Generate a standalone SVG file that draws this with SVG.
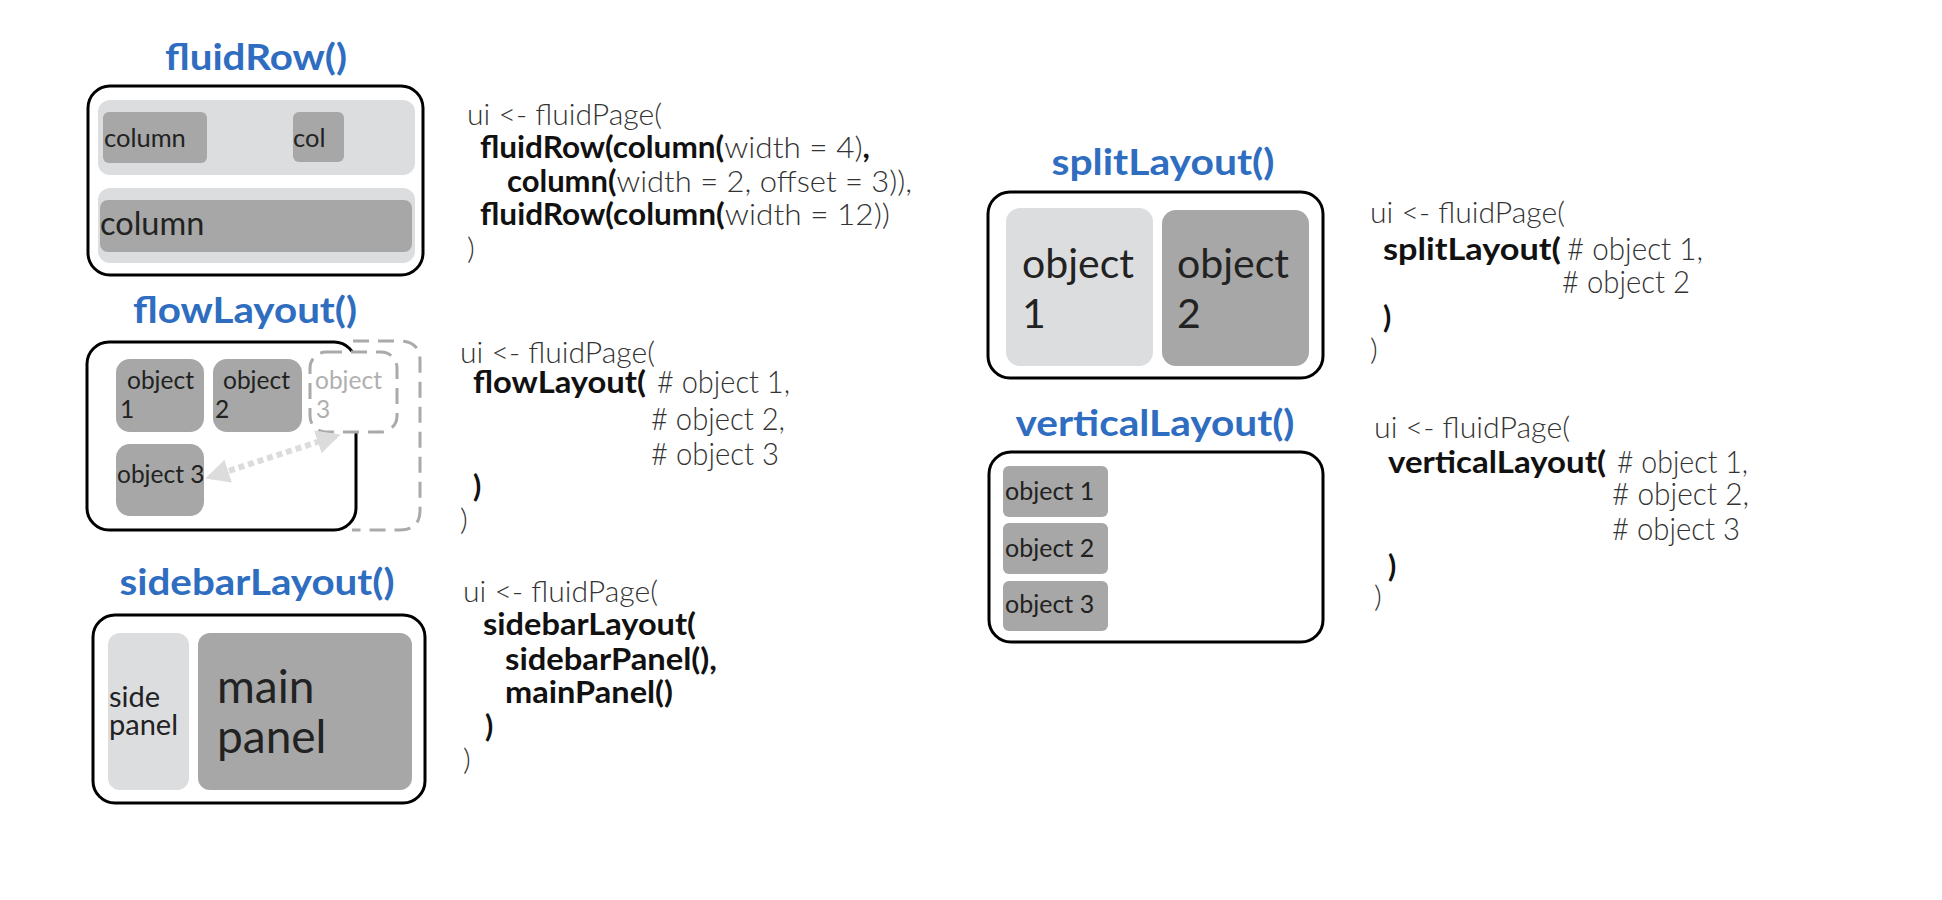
<svg xmlns="http://www.w3.org/2000/svg" width="1942" height="900" viewBox="0 0 1942 900">
<defs>
<style>
.title{font-family:Lato,"Open Sans","Liberation Sans",sans-serif;font-weight:700;fill:#2f6dc0;font-size:37px;text-anchor:middle}
.code{font-family:Lato,"Open Sans","Liberation Sans",sans-serif;font-weight:300;fill:#333;font-size:30px}
.cm{font-size:32px}
.b{font-weight:700;fill:#111}
.lbl{font-family:Lato,"Open Sans","Liberation Sans",sans-serif;fill:#222}
.outer{fill:#fff;stroke:#000;stroke-width:3}
.light{fill:#dcdddf}
.dark{fill:#a6a7a6}
.ghost{fill:#b0b0b0}
.dash{fill:#fff;stroke:#aaa;stroke-width:3;stroke-dasharray:16 9}
</style>
<marker id="ah" viewBox="0 0 10 10" refX="8" refY="5" markerWidth="4" markerHeight="4" orient="auto-start-reverse">
<path d="M0 0 L10 5 L0 10 Z" fill="#dcdcdc"/>
</marker>
</defs>
<rect width="1942" height="900" fill="#fff"/>

<g id="fluidRow">
<text class="title" x="256" y="70" textLength="182" lengthAdjust="spacingAndGlyphs">fluidRow()</text>
<rect class="outer" x="88" y="86" width="335" height="189" rx="22"/>
<rect class="light" x="98" y="100" width="317" height="75" rx="12"/>
<rect class="dark" x="103" y="112" width="104" height="51" rx="6"/>
<text class="lbl" x="104" y="147" font-size="25.5">column</text>
<rect class="dark" x="293" y="112" width="51" height="50" rx="6"/>
<text class="lbl" x="293" y="147" font-size="25.5">col</text>
<rect class="light" x="98" y="188" width="317" height="75" rx="12"/>
<rect class="dark" x="100" y="200" width="312" height="52" rx="8"/>
<text class="lbl" x="100" y="235" font-size="32.5">column</text>
</g>
<g id="fluidRow-code">
<text class="code" x="467" y="125" textLength="195" lengthAdjust="spacingAndGlyphs">ui &lt;- fluidPage(</text>
<text class="code" x="480" y="158" textLength="390" lengthAdjust="spacingAndGlyphs"><tspan class="b">fluidRow(column(</tspan>width = 4)<tspan class="b">,</tspan></text>
<text class="code" x="507" y="192" textLength="405" lengthAdjust="spacingAndGlyphs"><tspan class="b">column(</tspan>width = 2,  offset = 3)),</text>
<text class="code" x="480" y="225" textLength="410" lengthAdjust="spacingAndGlyphs"><tspan class="b">fluidRow(column(</tspan>width = 12))</text>
<text class="code" x="467" y="259">)</text>
</g>

<g id="flowLayout">
<text class="title" x="245" y="323" textLength="224" lengthAdjust="spacingAndGlyphs">flowLayout()</text>
<rect class="outer" x="87" y="342" width="269" height="188" rx="22"/>
<path d="M353 341 H400 Q420 341 420 361 V510 Q420 530 400 530 H352" fill="none" stroke="#aaa" stroke-width="3" stroke-dasharray="16 9"/>
<rect class="dash" x="310" y="352" width="87" height="80" rx="16"/>
<rect class="dark" x="116" y="359" width="88" height="73" rx="14"/>
<text class="lbl" x="127" y="389" font-size="24.5">object</text>
<text class="lbl" x="120" y="418" font-size="24.5">1</text>
<rect class="dark" x="213" y="359" width="89" height="73" rx="14"/>
<text class="lbl" x="223" y="389" font-size="24.5">object</text>
<text class="lbl" x="215" y="418" font-size="24.5">2</text>
<text class="lbl ghost" x="315" y="389" font-size="24.5">object</text>
<text class="lbl ghost" x="316" y="418" font-size="24.5">3</text>
<rect class="dark" x="116" y="444" width="88" height="72" rx="14"/>
<text class="lbl" x="117" y="483" font-size="24.5">object 3</text>
</g>
<g id="connectors">
<line x1="210" y1="477" x2="336" y2="436" stroke="#dcdcdc" stroke-width="6" stroke-dasharray="6 4" marker-start="url(#ah)" marker-end="url(#ah)"/>
</g>
<g id="flowLayout-code">
<text class="code" x="460" y="363" textLength="195" lengthAdjust="spacingAndGlyphs">ui &lt;- fluidPage(</text>
<text class="code b" x="473" y="393" textLength="173" lengthAdjust="spacingAndGlyphs">flowLayout(</text>
<text class="code cm" x="657" y="393" textLength="133" lengthAdjust="spacingAndGlyphs"># object 1,</text>
<text class="code cm" x="651" y="430" textLength="134" lengthAdjust="spacingAndGlyphs"># object 2,</text>
<text class="code cm" x="651" y="465" textLength="128" lengthAdjust="spacingAndGlyphs"># object 3</text>
<text class="code b" x="473" y="497">)</text>
<text class="code" x="460" y="530">)</text>
</g>

<g id="sidebarLayout">
<text class="title" x="257" y="595" textLength="275" lengthAdjust="spacingAndGlyphs">sidebarLayout()</text>
<rect class="outer" x="93" y="615" width="332" height="188" rx="22"/>
<rect class="light" x="108" y="633" width="81" height="157" rx="12"/>
<text class="lbl" x="109" y="707" font-size="29">side</text>
<text class="lbl" x="109" y="735" font-size="29">panel</text>
<rect class="dark" x="198" y="633" width="214" height="157" rx="12"/>
<text class="lbl" x="217" y="703" font-size="46">main</text>
<text class="lbl" x="217" y="753" font-size="46">panel</text>
</g>
<g id="sidebarLayout-code">
<text class="code" x="463" y="602" textLength="195" lengthAdjust="spacingAndGlyphs">ui &lt;- fluidPage(</text>
<text class="code b" x="483" y="635" textLength="213" lengthAdjust="spacingAndGlyphs">sidebarLayout(</text>
<text class="code b" x="505" y="670" textLength="212" lengthAdjust="spacingAndGlyphs">sidebarPanel(),</text>
<text class="code b" x="505" y="703" textLength="168" lengthAdjust="spacingAndGlyphs">mainPanel()</text>
<text class="code b" x="485" y="737">)</text>
<text class="code" x="463" y="770">)</text>
</g>

<g id="splitLayout">
<text class="title" x="1163" y="175" textLength="223" lengthAdjust="spacingAndGlyphs">splitLayout()</text>
<rect class="outer" x="988" y="192" width="335" height="186" rx="22"/>
<rect class="light" x="1006" y="208" width="147" height="158" rx="14"/>
<text class="lbl" x="1022" y="278" font-size="41">object</text>
<text class="lbl" x="1022" y="328" font-size="41">1</text>
<rect class="dark" x="1162" y="210" width="147" height="156" rx="14"/>
<text class="lbl" x="1177" y="278" font-size="41">object</text>
<text class="lbl" x="1177" y="328" font-size="41">2</text>
</g>
<g id="splitLayout-code">
<text class="code" x="1370" y="223" textLength="195" lengthAdjust="spacingAndGlyphs">ui &lt;- fluidPage(</text>
<text class="code b" x="1383" y="260" textLength="178" lengthAdjust="spacingAndGlyphs">splitLayout(</text>
<text class="code cm" x="1567" y="260" textLength="136" lengthAdjust="spacingAndGlyphs"># object 1,</text>
<text class="code cm" x="1562" y="293" textLength="128" lengthAdjust="spacingAndGlyphs"># object 2</text>
<text class="code b" x="1383" y="328">)</text>
<text class="code" x="1370" y="360">)</text>
</g>

<g id="verticalLayout">
<text class="title" x="1155" y="436" textLength="279" lengthAdjust="spacingAndGlyphs">verticalLayout()</text>
<rect class="outer" x="989" y="452" width="334" height="190" rx="22"/>
<rect class="dark" x="1003" y="466" width="105" height="51" rx="6"/>
<text class="lbl" x="1005" y="500" font-size="25">object 1</text>
<rect class="dark" x="1003" y="523" width="105" height="51" rx="6"/>
<text class="lbl" x="1005" y="557" font-size="25">object 2</text>
<rect class="dark" x="1003" y="581" width="105" height="50" rx="6"/>
<text class="lbl" x="1005" y="613" font-size="25">object 3</text>
</g>
<g id="verticalLayout-code">
<text class="code" x="1374" y="438" textLength="196" lengthAdjust="spacingAndGlyphs">ui &lt;- fluidPage(</text>
<text class="code b" x="1388" y="473" textLength="218" lengthAdjust="spacingAndGlyphs">verticalLayout(</text>
<text class="code cm" x="1617" y="473" textLength="131" lengthAdjust="spacingAndGlyphs"># object 1,</text>
<text class="code cm" x="1612" y="505" textLength="137" lengthAdjust="spacingAndGlyphs"># object 2,</text>
<text class="code cm" x="1612" y="540" textLength="128" lengthAdjust="spacingAndGlyphs"># object 3</text>
<text class="code b" x="1388" y="577">)</text>
<text class="code" x="1374" y="607">)</text>
</g>
</svg>
